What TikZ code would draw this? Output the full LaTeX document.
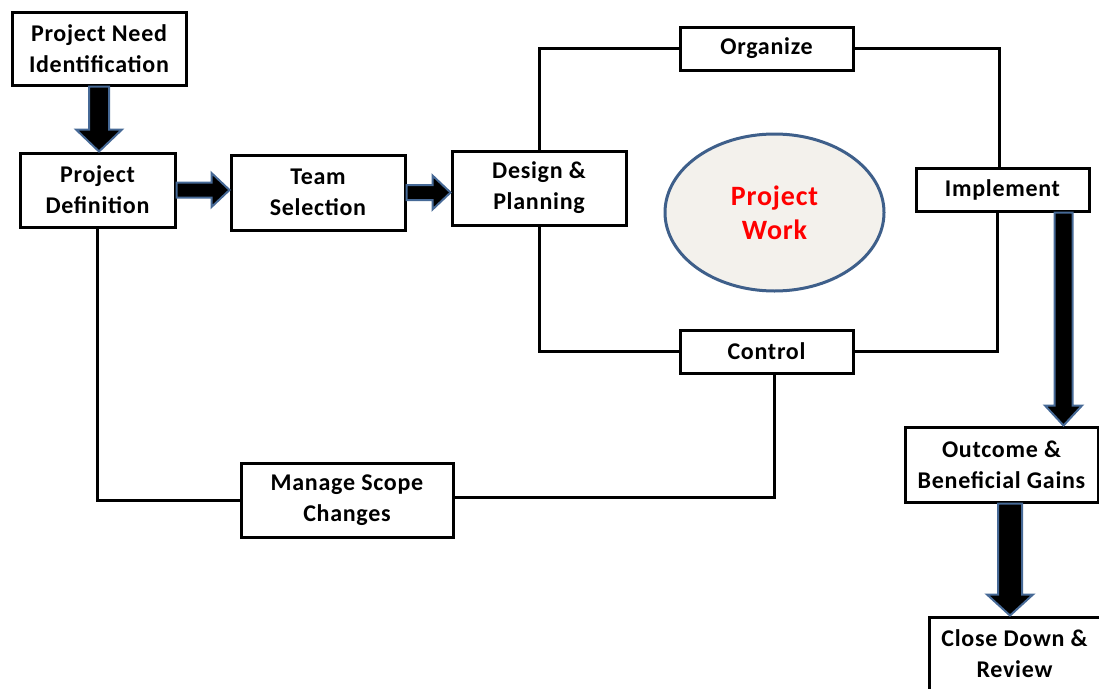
\documentclass[tikz,border=0pt]{standalone}
\usepackage{fontspec}
\setmainfont{Carlito}[LetterSpace=3]
\usetikzlibrary{calc,shapes.geometric}
\definecolor{arrowblue}{RGB}{70,105,150}
\definecolor{ellblue}{RGB}{62,95,138}
\definecolor{ellfill}{RGB}{243,241,236}
\tikzset{
  box/.style={draw=black,line width=3pt,fill=white,align=center,inner sep=0pt,
    font=\fontsize{24}{31}\selectfont\bfseries},
  link/.style={draw=black,line width=3pt},
  blockarrow/.style={fill=black,draw=arrowblue,line width=2pt,line join=miter}
}
\newcommand{\vblock}[5]{% top point, bottom point, shaft half, head half, head length
  \path[blockarrow] let \p1=#1, \p2=#2 in
   (\x1-#3pt,\y1) -- (\x1+#3pt,\y1) -- (\x1+#3pt,\y2+#5pt) -- (\x1+#4pt,\y2+#5pt)
   -- (\x1,\y2) -- (\x1-#4pt,\y2+#5pt) -- (\x1-#3pt,\y2+#5pt) -- cycle;}
\newcommand{\hblock}[5]{% left point, right point, shaft half, head half, head length
  \path[blockarrow] let \p1=#1, \p2=#2 in
   (\x1,\y1+#3pt) -- (\x1,\y1-#3pt) -- (\x2-#5pt,\y1-#3pt) -- (\x2-#5pt,\y1-#4pt)
   -- (\x2,\y1) -- (\x2-#5pt,\y1+#4pt) -- (\x2-#5pt,\y1+#3pt) -- cycle;}
\begin{document}
\begin{tikzpicture}[x=1pt,y=-1pt]
\useasboundingbox (0,0) rectangle (1099,688);
\fill[white] (0,0) rectangle (1099,688);

\node[box,minimum width=174,minimum height=73] (need) at (99,48.5) {Project Need\\Identification};
\node[box,minimum width=155,minimum height=74] (def) at (97.5,190) {Project\\Definition};
\node[box,minimum width=174,minimum height=75] (team) at (318,192.5) {Team\\Selection};
\node[box,minimum width=174,minimum height=74] (design) at (539,188) {Design \&\\Planning};
\node[box,minimum width=173,minimum height=43] (org) at (766.5,48.5) {Organize};
\node[box,minimum width=173,minimum height=43] (impl) at (1002.5,189.5) {Implement};
\node[box,minimum width=173,minimum height=43] (ctrl) at (766.5,351.5) {Control};
\node[box,minimum width=212,minimum height=74] (scope) at (347,500) {Manage Scope\\Changes};
\node[box,minimum width=193,minimum height=75] (out) at (1001.5,464.5) {Outcome \&\\Beneficial Gains};
\node[box,minimum width=171,minimum height=73] (close) at (1014.5,653.5) {Close Down \&\\Review};

\node[ellipse,draw=ellblue,line width=3pt,fill=ellfill,minimum width=219,minimum height=157,
  text=red,align=center,font=\fontsize{28}{34}\selectfont\bfseries] (work) at (774.5,212.5) {Project\\Work};

% loop connectors
\draw[link] (design.north) |- (org.west);
\draw[link] (org.east) -| ($(impl.north)+(-3,0)$);
\draw[link] ($(impl.south)+(-5,0)$) |- (ctrl.east);
\draw[link] (ctrl.west) -| (design.south);
\draw[link] ($(ctrl.south)+(8,0)$) |- ($(scope.east)+(0,-3)$);
\draw[link] (scope.west) -| (def.south);

% block arrows
\vblock{(need.south)}{(def.north)}{10}{23}{22}
\hblock{(def.east)}{(team.west)}{7.5}{17}{18}
\hblock{(team.east)}{(design.west)}{7.5}{17}{18}
\vblock{($(impl.south east)+(-27,0)$)}{(out.north)}{9}{18.5}{20}
\vblock{($(out.south)+(8.5,0)$)}{(close.north)}{12}{23}{21}
\end{tikzpicture}
\end{document}
